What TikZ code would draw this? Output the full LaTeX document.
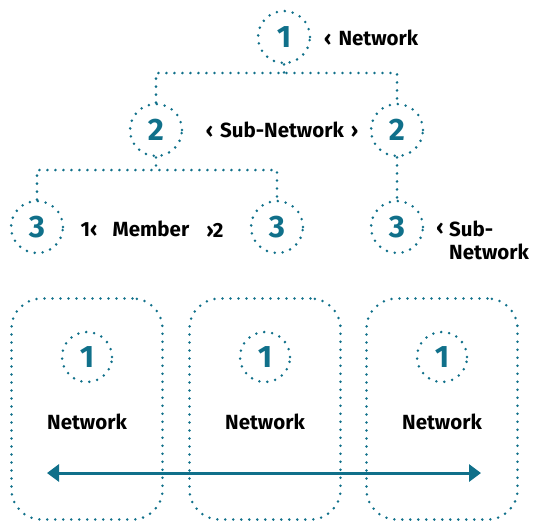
\documentclass[tikz,border=0pt]{standalone}
\usepackage{fontspec}
\setmainfont{Fira Sans}
\usetikzlibrary{arrows.meta}
\definecolor{teal1}{HTML}{10708A}
\tikzset{
  dotline/.style={draw=teal1, line width=2.8pt, line cap=round, dash pattern=on 0pt off 8pt},
  numc/.style={circle, dotline, minimum size=52pt, inner sep=0pt, text=teal1, font=\fontsize{31}{31}\selectfont\bfseries},
  boxn/.style={dotline, rounded corners=30pt, minimum width=151pt, minimum height=221pt, inner sep=0pt},
  lbl/.style={inner sep=0pt, font=\fontsize{20.5}{23}\selectfont\bfseries, text=black},
  arr/.style={draw=teal1, line width=3pt, {Triangle[length=12pt,width=17pt]}-{Triangle[length=12pt,width=17pt]}}
}
\begin{document}
\begin{tikzpicture}[x=1pt,y=-1pt]
\useasboundingbox (0,0) rectangle (534,520);
% tree
\node[numc] (c1) at (284,37) {1};
\node[numc] (c2a) at (156,130) {2};
\node[numc] (c2b) at (397,130) {2};
\node[numc] (c3a) at (37,227) {3};
\node[numc] (c3b) at (277,227) {3};
\node[numc] (c3c) at (397,227) {3};
\coordinate (h1) at (0,73);
\coordinate (h2) at (0,170);
\draw[dotline] (c1.south) -- (c1.south |- h1);
\draw[dotline] (c2a.north) -- (c2a.north |- h1) -- (c2b.north |- h1) -- (c2b.north);
\draw[dotline] (c3a.north) -- (c3a.north |- h2) -- (c3b.north |- h2) -- (c3b.north);
\draw[dotline] (c2a.south) -- (c2a.south |- h2);
\draw[dotline] (c2b.south) -- (c3c.north);
% labels
\node[lbl, anchor=west] (t1) at (324,38) {‹\hspace{7pt}Network};
\node[lbl] (t2) at (282,130) {‹\hspace{7pt}Sub-Network\hspace{7pt}›};
\node[lbl] (t3a) at (89,230) {1‹};
\node[lbl] (t3b) at (151,229) {Member};
\node[lbl] (t3c) at (215,230) {›2};
\node[lbl] (t4a) at (440,229) {‹};
\node[lbl, anchor=west, align=left] (t4b) at (449,240) {Sub-\\Network};
% boxes
\node[boxn] (b1) at (87,409) {};
\node[boxn] (b2) at (265,409) {};
\node[boxn] (b3) at (442,409) {};
\node[numc, minimum size=50pt] (n1) at (87,357) {1};
\node[numc, minimum size=50pt] (n2) at (265,357) {1};
\node[numc, minimum size=50pt] (n3) at (442,357) {1};
\node[lbl] (w1) at (87,422) {Network};
\node[lbl] (w2) at (265,422) {Network};
\node[lbl] (w3) at (442,422) {Network};
\coordinate (aL) at (47,473);
\coordinate (aR) at (481,473);
\draw[arr] (aL) -- (aR);
\end{tikzpicture}
\end{document}
